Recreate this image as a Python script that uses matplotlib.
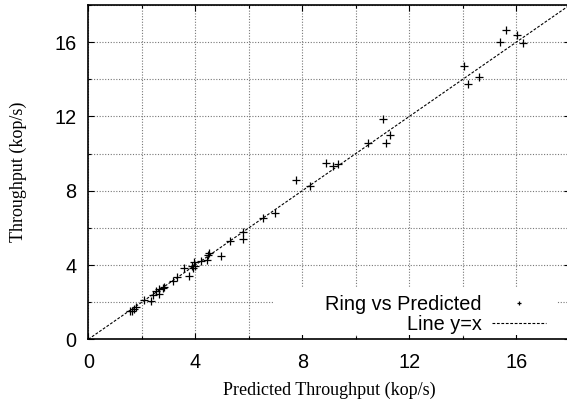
import matplotlib
matplotlib.use('Agg')
import matplotlib.pyplot as plt
from matplotlib.patches import Rectangle
from matplotlib.ticker import MultipleLocator

predicted = [1.56, 1.62, 1.71, 1.78, 2.09, 2.34, 2.41, 2.53, 2.64, 2.65,
             2.80, 2.84, 3.18, 3.30, 3.59, 3.77, 3.87, 3.93, 3.95, 3.99,
             4.20, 4.45, 4.49, 4.53, 4.97, 5.30, 5.77, 5.77, 6.54, 6.98,
             7.78, 8.29, 8.89, 9.14, 9.32, 10.45, 11.03, 11.12, 11.28, 14.03,
             14.18, 14.62, 15.38, 15.60, 16.01, 16.26]
measured = [1.51, 1.55, 1.62, 1.72, 2.12, 2.06, 2.40, 2.62, 2.69, 2.44,
            2.76, 2.83, 3.16, 3.34, 3.82, 3.43, 3.95, 3.82, 4.18, 3.95,
            4.22, 4.27, 4.54, 4.64, 4.50, 5.31, 5.78, 5.42, 6.52, 6.79,
            8.57, 8.26, 9.48, 9.34, 9.46, 10.57, 11.87, 10.56, 11.01, 14.74,
            13.74, 14.11, 16.00, 16.66, 16.38, 15.95]
line_ends = [0, 18]

sans = 'Liberation Sans'
serif = 'Liberation Serif'

fig = plt.figure(figsize=(5.67, 4.05), dpi=100)
# right border of the plot runs just past the picture edge
ax = fig.add_axes([88.3 / 567, 65.7 / 405, 481.5 / 567, 334.3 / 405])

ax.plot(predicted, measured, linestyle='none', marker='+', color='black',
        markersize=5.5, markeredgewidth=0.9, label='Ring vs Predicted', zorder=3)
ax.plot(line_ends, line_ends, color='black', linewidth=0.8,
        dashes=(2.5, 1.5), label='Line y=x', zorder=3)

ax.set_xlim(0, 18)
ax.set_ylim(0, 18)
ax.xaxis.set_major_locator(MultipleLocator(4))
ax.xaxis.set_minor_locator(MultipleLocator(2))
ax.yaxis.set_major_locator(MultipleLocator(4))
ax.yaxis.set_minor_locator(MultipleLocator(2))

ax.set_axisbelow(True)
ax.grid(True, which='both', linestyle=(0, (1, 1.5)), color='#777777', linewidth=0.8)

ax.tick_params(which='both', direction='in', top=True, right=True, width=0.8)
ax.tick_params(which='major', length=4.5, labelsize=14.3)
ax.tick_params(axis='x', which='major', pad=10)
ax.tick_params(axis='y', which='major', pad=8.5)
ax.tick_params(which='minor', length=2.5)
for lab in ax.get_xticklabels() + ax.get_yticklabels():
    lab.set_family(sans)

for sp in ax.spines.values():
    sp.set_linewidth(1.2)

ax.set_xlabel('Predicted Throughput (kop/s)', family=serif, fontsize=13)
ax.set_ylabel('Throughput (kop/s)', family=serif, fontsize=13)
ax.xaxis.set_label_coords(0.5, -42 / 334.3)
ax.yaxis.set_label_coords(-61 / 481.5, 0.5)

# gnuplot key: opaque white box hiding the grid
ax.add_patch(Rectangle((0.384, 0.013), 0.59, 0.143, transform=ax.transAxes,
                       facecolor='white', edgecolor='none', zorder=1))

leg = ax.legend(loc='center right', bbox_to_anchor=(0.9506, 0.0742),
                frameon=False, markerfirst=False, borderpad=0, borderaxespad=0,
                handlelength=2.7, handletextpad=0.55, labelspacing=0.02,
                markerscale=0.6, prop={'family': sans, 'size': 14.3})
for t in leg.get_texts():
    t.set_ha('right')

fig.savefig('out.png', dpi=100)
